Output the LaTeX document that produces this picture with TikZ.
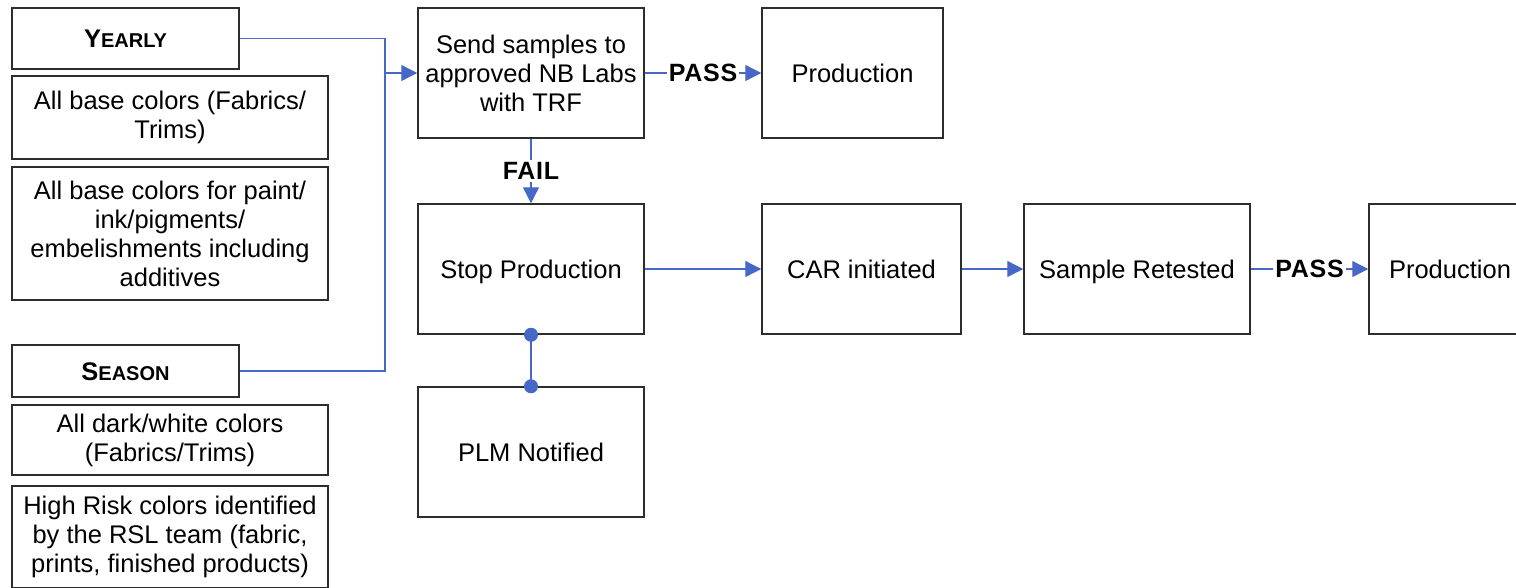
\documentclass[tikz,border=0pt]{standalone}
\usepackage{fontspec}
\setmainfont{Liberation Sans}
\usetikzlibrary{arrows.meta}
\definecolor{connc}{RGB}{72,104,200}
\definecolor{boxline}{RGB}{45,45,45}
\tikzset{
  box/.style={draw=boxline, line width=1.5pt, inner sep=0pt, align=center,
    font=\fontsize{25.5}{29}\selectfont},
  single/.style={text height=18pt, text depth=0pt},
  conn/.style={draw=connc, line width=1.3pt},
  arr/.style={conn, -{Triangle[length=16pt,width=16pt]}},
  lbl/.style={fill=white, inner sep=2pt, text=black,
    font=\bfseries\fontsize{25}{29}\selectfont\addfontfeatures{LetterSpace=3}},
  jdot/.style={circle, fill=connc, inner sep=0pt, minimum size=14pt}
}
\newcommand{\fakesc}[2]{{\bfseries\fontsize{25.5}{29}\selectfont #1\fontsize{20}{29}\selectfont #2}}
\begin{document}
\begin{tikzpicture}[x=1pt,y=-1pt]
\useasboundingbox (0,0) rectangle (1516,587);
\clip (0,0) rectangle (1516,587);
% left column
\node[box, single, minimum width=227pt, minimum height=61pt] (yearly) at (125.5,38.5) {\fakesc{Y}{EARLY}};
\node[box, minimum width=316pt, minimum height=83pt] (base1) at (170,117.5) {All base colors (Fabrics/\\Trims)};
\node[box, minimum width=316pt, minimum height=133pt] (base2) at (170,233.5) {All base colors for paint/\\ink/pigments/\\embelishments including\\additives};
\node[box, single, minimum width=227pt, minimum height=52pt] (season) at (125.5,371) {\fakesc{S}{EASON}};
\node[box, minimum width=316pt, minimum height=70pt] (dark) at (170,440) {All dark/white colors\\(Fabrics/Trims)};
\node[box, minimum width=316pt, minimum height=102pt] (risk) at (170,537) {High Risk colors identified\\by the RSL team (fabric,\\prints, finished products)};
% flow
\node[box, minimum width=226pt, minimum height=130pt] (send) at (531,73) {Send samples to\\approved NB Labs\\with TRF};
\node[box, single, minimum width=181pt, minimum height=130pt] (prod1) at (852.5,73) {Production};
\node[box, single, minimum width=226pt, minimum height=130pt] (stop) at (531,269) {Stop Production};
\node[box, single, minimum width=199pt, minimum height=130pt] (car) at (861.5,269) {CAR initiated};
\node[box, single, minimum width=226pt, minimum height=130pt] (retest) at (1137,269) {Sample Retested};
\node[box, single, minimum width=162pt, minimum height=130pt] (prod2) at (1450,269) {Production};
\node[box, single, minimum width=226pt, minimum height=130pt] (plm) at (531,452) {PLM Notified};
% connectors
\coordinate (j) at (385,73);
\draw[conn] (yearly.east) -| (j);
\draw[conn] (season.east) -| (j);
\draw[arr] (j) -- (send.west);
\draw[arr] (send.east) -- node[lbl] (pass1) {PASS} (prod1.west);
\draw[arr] (send.south) -- node[lbl] (fail) {FAIL} (stop.north);
\draw[arr] (stop.east) -- (car.west);
\draw[arr] (car.east) -- (retest.west);
\draw[arr] (retest.east) -- node[lbl] (pass2) {PASS} (prod2.west);
\draw[conn] (stop.south) -- (plm.north);
\node[jdot] (d1) at (stop.south) {};
\node[jdot] (d2) at (plm.north) {};
\end{tikzpicture}
\end{document}
